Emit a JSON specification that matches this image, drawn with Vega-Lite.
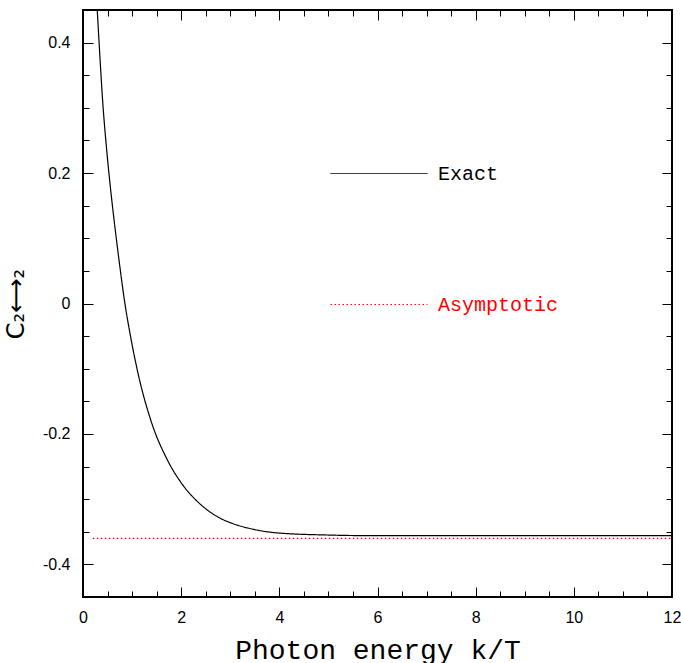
{
  "$schema": "https://vega.github.io/schema/vega-lite/v6.json",
  "width": 589,
  "height": 587,
  "autosize": {"type": "none"},
  "padding": {"left": 83, "top": 10, "right": 9, "bottom": 66},
  "background": "white",
  "config": {
    "view": {"stroke": "black", "strokeWidth": 2},
    "axis": {"grid": false, "domain": false, "tickColor": "black", "tickWidth": 1, "labelColor": "black", "titleColor": "black"}
  },
  "data": {
    "values": [
      {"series": "Exact", "x": 0.29, "y": 0.45},
      {"series": "Exact", "x": 0.345, "y": 0.378},
      {"series": "Exact", "x": 0.4, "y": 0.311},
      {"series": "Exact", "x": 0.483, "y": 0.235},
      {"series": "Exact", "x": 0.564, "y": 0.174},
      {"series": "Exact", "x": 0.665, "y": 0.108},
      {"series": "Exact", "x": 0.75, "y": 0.057},
      {"series": "Exact", "x": 0.84, "y": 0.007},
      {"series": "Exact", "x": 0.99, "y": -0.059},
      {"series": "Exact", "x": 1.13, "y": -0.11},
      {"series": "Exact", "x": 1.39, "y": -0.181},
      {"series": "Exact", "x": 1.72, "y": -0.24},
      {"series": "Exact", "x": 2.04, "y": -0.279},
      {"series": "Exact", "x": 2.38, "y": -0.307},
      {"series": "Exact", "x": 2.79, "y": -0.329},
      {"series": "Exact", "x": 3.0, "y": -0.336},
      {"series": "Exact", "x": 3.4, "y": -0.345},
      {"series": "Exact", "x": 4.0, "y": -0.352},
      {"series": "Exact", "x": 5.0, "y": -0.355},
      {"series": "Exact", "x": 6.0, "y": -0.356},
      {"series": "Exact", "x": 8.0, "y": -0.356},
      {"series": "Exact", "x": 10.0, "y": -0.356},
      {"series": "Exact", "x": 12.0, "y": -0.356},
      {"series": "Asymptotic", "x": 0.2, "y": -0.36},
      {"series": "Asymptotic", "x": 12.0, "y": -0.36}
    ]
  },
  "resolve": {"axis": {"x": "independent", "y": "independent"}},
  "layer": [
    {
      "mark": {"type": "line", "strokeWidth": 1.2, "interpolate": "monotone", "clip": true},
      "encoding": {
        "x": {
          "field": "x", "type": "quantitative",
          "scale": {"domain": [0, 12], "nice": false, "zero": false},
          "axis": {
            "orient": "bottom", "values": [0, 2, 4, 6, 8, 10, 12], "tickSize": -10,
            "labelPadding": 22, "labelFont": "Liberation Sans", "labelFontSize": 16, "labelFlush": false,
            "title": "Photon energy k/T", "titleFont": "Liberation Mono", "titleFontSize": 28,
            "titleFontWeight": "normal", "titlePadding": 11
          }
        },
        "y": {
          "field": "y", "type": "quantitative",
          "scale": {"domain": [-0.45, 0.45], "nice": false, "zero": false},
          "axis": {
            "orient": "left", "values": [-0.4, -0.2, 0, 0.2, 0.4], "tickSize": -10,
            "labelPadding": 23, "labelFont": "Liberation Sans", "labelFontSize": 16, "labelFlush": false,
            "labelExpr": "(datum.value < -0.001 ? '-' : '') + format(abs(datum.value), '~g')",
            "title": "C₂⟷₂", "titleFont": "DejaVu Sans", "titleFontSize": 24,
            "titleFontWeight": "normal", "titlePadding": 14
          }
        },
        "color": {
          "field": "series", "type": "nominal",
          "scale": {"domain": ["Exact", "Asymptotic"], "range": ["black", "red"]},
          "legend": {
            "orient": "none", "legendX": 247, "legendY": 114.5, "title": null,
            "symbolType": "stroke", "symbolSize": 9409, "symbolStrokeWidth": 1,
            "labelFont": "Liberation Mono", "labelFontSize": 20, "labelOffset": 10,
            "rowPadding": 72, "padding": 0,
            "encode": {"labels": {"update": {"fill": {"signal": "datum.value === 'Asymptotic' ? 'red' : 'black'"}}}}
          }
        },
        "strokeDash": {
          "field": "series", "type": "nominal",
          "scale": {"domain": ["Exact", "Asymptotic"], "range": [[1, 0], [1.5, 2.5]]},
          "legend": {
            "orient": "none", "legendX": 247, "legendY": 114.5, "title": null,
            "symbolType": "stroke", "symbolSize": 9409, "symbolStrokeWidth": 1,
            "labelFont": "Liberation Mono", "labelFontSize": 20, "labelOffset": 10,
            "rowPadding": 72, "padding": 0,
            "encode": {"labels": {"update": {"fill": {"signal": "datum.value === 'Asymptotic' ? 'red' : 'black'"}}}}
          }
        }
      }
    },
    {
      "mark": {"type": "line", "opacity": 0},
      "encoding": {
        "x": {"field": "x", "type": "quantitative",
          "axis": {"orient": "bottom", "values": [0, 0.5, 1, 1.5, 2, 2.5, 3, 3.5, 4, 4.5, 5, 5.5, 6, 6.5, 7, 7.5, 8, 8.5, 9, 9.5, 10, 10.5, 11, 11.5, 12], "tickSize": -6, "labels": false, "title": null}},
        "y": {"field": "y", "type": "quantitative",
          "axis": {"orient": "left", "values": [-0.45, -0.4, -0.35, -0.3, -0.25, -0.2, -0.15, -0.1, -0.05, 0, 0.05, 0.1, 0.15, 0.2, 0.25, 0.3, 0.35, 0.4, 0.45], "tickSize": -6, "labels": false, "title": null}},
        "detail": {"field": "series"}
      }
    },
    {
      "mark": {"type": "line", "opacity": 0},
      "encoding": {
        "x": {"field": "x", "type": "quantitative",
          "axis": {"orient": "top", "values": [0, 2, 4, 6, 8, 10, 12], "tickSize": -10, "labels": false, "title": null}},
        "y": {"field": "y", "type": "quantitative",
          "axis": {"orient": "right", "values": [-0.4, -0.2, 0, 0.2, 0.4], "tickSize": -10, "labels": false, "title": null}},
        "detail": {"field": "series"}
      }
    },
    {
      "mark": {"type": "line", "opacity": 0},
      "encoding": {
        "x": {"field": "x", "type": "quantitative",
          "axis": {"orient": "top", "values": [0, 0.5, 1, 1.5, 2, 2.5, 3, 3.5, 4, 4.5, 5, 5.5, 6, 6.5, 7, 7.5, 8, 8.5, 9, 9.5, 10, 10.5, 11, 11.5, 12], "tickSize": -6, "labels": false, "title": null}},
        "y": {"field": "y", "type": "quantitative",
          "axis": {"orient": "right", "values": [-0.45, -0.4, -0.35, -0.3, -0.25, -0.2, -0.15, -0.1, -0.05, 0, 0.05, 0.1, 0.15, 0.2, 0.25, 0.3, 0.35, 0.4, 0.45], "tickSize": -6, "labels": false, "title": null}},
        "detail": {"field": "series"}
      }
    }
  ]
}
